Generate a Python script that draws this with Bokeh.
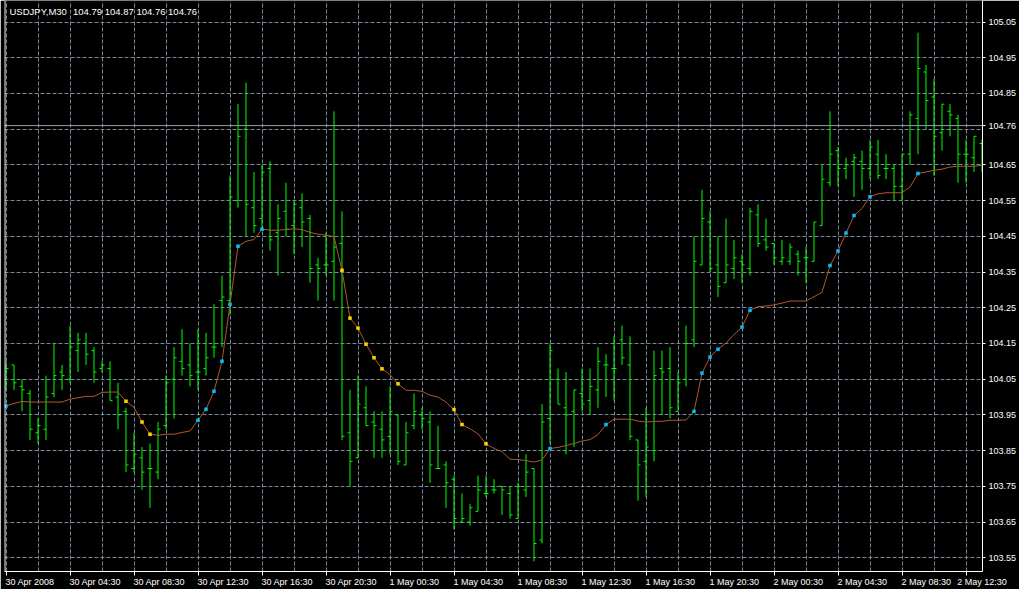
from bokeh.plotting import figure
from bokeh.models import Range1d, FixedTicker, Span, Label, PrintfTickFormatter
from bokeh.embed import file_html
from bokeh.resources import INLINE

# ---------------- data ----------------
symbol = "USDJPY,M30"
header_ohlc = "104.79 104.87 104.76 104.76"
bid_price = 104.76

opens = [104.05, 104.09, 104.03, 104.01, 103.90, 103.91, 104.01, 104.07, 104.05, 104.13,
         104.15, 104.13, 104.08, 104.08, 104.00, 103.96, 103.80, 103.83, 103.80, 103.79,
         103.92, 104.05, 104.10, 104.09, 104.07, 104.08, 104.14, 104.27, 104.27, 104.55,
         104.75, 104.53, 104.50, 104.64, 104.46, 104.52, 104.48, 104.53, 104.50, 104.37,
         104.37, 104.38, 104.43, 103.90, 103.83, 103.97, 103.93, 103.91, 103.89, 103.95,
         103.81, 103.92, 103.95, 103.93, 103.80, 103.81, 103.77, 103.65, 103.65, 103.68,
         103.73, 103.74, 103.75, 103.73, 103.66, 103.74, 103.80, 103.60, 103.94, 104.05,
         103.97, 103.96, 104.01, 103.99, 104.02, 104.09, 104.08, 104.16, 104.09, 103.88,
         103.82, 103.85, 104.08, 104.08, 103.96, 104.05, 104.16, 104.37, 104.49, 104.37,
         104.32, 104.36, 104.38, 104.36, 104.51, 104.44, 104.43, 104.38, 104.38, 104.40,
         104.39, 104.38, 104.48, 104.60, 104.69, 104.64, 104.66, 104.66, 104.64, 104.68,
         104.64, 104.64, 104.59, 104.68, 104.78, 104.91, 104.84, 104.74, 104.80, 104.78,
         104.68, 104.67, 104.71]
highs = [104.10, 104.09, 104.05, 104.02, 103.94, 104.06, 104.15, 104.09, 104.20, 104.18,
         104.18, 104.14, 104.10, 104.10, 104.04, 103.97, 103.90, 103.86, 103.87, 103.93,
         104.06, 104.14, 104.19, 104.15, 104.19, 104.18, 104.26, 104.34, 104.62, 104.82,
         104.88, 104.63, 104.65, 104.66, 104.54, 104.60, 104.55, 104.57, 104.51, 104.39,
         104.46, 104.80, 104.52, 104.02, 104.06, 104.03, 103.96, 103.96, 104.03, 103.95,
         103.93, 104.01, 103.97, 103.96, 103.92, 103.82, 103.78, 103.73, 103.70, 103.78,
         103.78, 103.77, 103.75, 103.75, 103.76, 103.84, 103.80, 103.98, 104.15, 104.08,
         104.07, 104.02, 104.08, 104.08, 104.14, 104.12, 104.17, 104.20, 104.17, 103.88,
         103.97, 104.13, 104.13, 104.14, 104.07, 104.20, 104.45, 104.58, 104.52, 104.45,
         104.50, 104.44, 104.40, 104.53, 104.54, 104.50, 104.43, 104.44, 104.43, 104.41,
         104.42, 104.49, 104.65, 104.80, 104.70, 104.67, 104.68, 104.69, 104.72, 104.72,
         104.68, 104.65, 104.68, 104.80, 105.02, 104.93, 104.89, 104.82, 104.82, 104.79,
         104.72, 104.73, 104.72]
lows = [104.02, 104.02, 103.96, 103.88, 103.87, 103.88, 104.00, 104.02, 104.04, 104.07,
        104.09, 104.04, 104.07, 103.99, 103.91, 103.79, 103.79, 103.74, 103.69, 103.77,
        103.91, 103.94, 104.06, 104.03, 104.02, 104.06, 104.11, 104.14, 104.23, 104.53,
        104.45, 104.46, 104.47, 104.41, 104.34, 104.45, 104.40, 104.42, 104.32, 104.27,
        104.34, 104.27, 103.88, 103.75, 103.83, 103.92, 103.83, 103.83, 103.84, 103.81,
        103.81, 103.91, 103.91, 103.76, 103.80, 103.69, 103.63, 103.65, 103.64, 103.68,
        103.72, 103.73, 103.67, 103.66, 103.66, 103.72, 103.54, 103.59, 103.87, 103.98,
        103.84, 103.86, 103.96, 103.95, 103.97, 104.00, 103.99, 104.09, 103.88, 103.71,
        103.72, 103.82, 103.95, 103.94, 103.96, 104.03, 104.14, 104.37, 104.35, 104.28,
        104.32, 104.33, 104.32, 104.34, 104.42, 104.41, 104.37, 104.37, 104.37, 104.34,
        104.32, 104.38, 104.48, 104.59, 104.59, 104.61, 104.56, 104.58, 104.61, 104.61,
        104.61, 104.55, 104.55, 104.65, 104.68, 104.75, 104.62, 104.69, 104.73, 104.60,
        104.60, 104.63, 104.63]
closes = [104.08, 104.04, 104.02, 103.91, 103.92, 104.00, 104.06, 104.06, 104.14, 104.16,
          104.12, 104.07, 104.09, 103.99, 103.95, 103.81, 103.84, 103.79, 103.80, 103.91,
          104.04, 104.11, 104.08, 104.06, 104.07, 104.11, 104.14, 104.28, 104.56, 104.73,
          104.54, 104.48, 104.63, 104.44, 104.50, 104.47, 104.54, 104.49, 104.36, 104.36,
          104.37, 104.42, 103.89, 103.82, 103.98, 103.92, 103.92, 103.88, 103.96, 103.82,
          103.90, 103.96, 103.94, 103.81, 103.80, 103.76, 103.66, 103.66, 103.69, 103.74,
          103.73, 103.74, 103.74, 103.67, 103.75, 103.79, 103.59, 103.93, 104.13, 103.98,
          103.95, 104.02, 103.98, 104.03, 104.10, 104.09, 104.08, 104.11, 103.89, 103.81,
          103.86, 104.06, 104.07, 103.97, 104.04, 104.15, 104.38, 104.50, 104.36, 104.31,
          104.37, 104.39, 104.37, 104.52, 104.43, 104.42, 104.39, 104.39, 104.42, 104.38,
          104.39, 104.49, 104.61, 104.68, 104.64, 104.65, 104.67, 104.64, 104.70, 104.62,
          104.64, 104.59, 104.68, 104.79, 104.92, 104.83, 104.73, 104.82, 104.79, 104.68,
          104.68, 104.73, 104.70]
ma_values = [103.975, 103.982, 103.988, 103.986, 103.986, 103.986, 103.986, 103.986, 103.994, 103.998,
             104.002, 104.002, 104.013, 104.014, 104.014, 103.988, 103.971, 103.930, 103.896, 103.893,
             103.896, 103.896, 103.901, 103.905, 103.935, 103.966, 104.016, 104.100, 104.260, 104.422,
             104.436, 104.441, 104.470, 104.467, 104.467, 104.469, 104.471, 104.469, 104.461, 104.456,
             104.453, 104.449, 104.355, 104.221, 104.193, 104.148, 104.110, 104.079, 104.063, 104.037,
             104.019, 104.019, 104.016, 104.005, 104.000, 103.986, 103.965, 103.923, 103.911, 103.897,
             103.869, 103.856, 103.847, 103.826, 103.825, 103.822, 103.818, 103.824, 103.856, 103.859,
             103.864, 103.870, 103.877, 103.881, 103.895, 103.923, 103.938, 103.938, 103.938, 103.933,
             103.930, 103.932, 103.932, 103.935, 103.935, 103.936, 103.960, 104.067, 104.112, 104.134,
             104.151, 104.175, 104.196, 104.243, 104.253, 104.255, 104.258, 104.263, 104.269, 104.269,
             104.269, 104.281, 104.293, 104.368, 104.409, 104.459, 104.508, 104.528, 104.561, 104.569,
             104.572, 104.572, 104.572, 104.588, 104.626, 104.630, 104.635, 104.638, 104.644, 104.646,
             104.646, 104.646, 104.649]
dots_up = [0, 24, 25, 26, 27, 28, 29, 32, 68, 75, 86, 87, 88, 89, 92, 93, 103, 104, 105, 106, 108, 114]
dots_down = [15, 17, 18, 42, 43, 44, 45, 46, 47, 49, 56, 57, 60]

time_labels = ["30 Apr 2008", "30 Apr 04:30", "30 Apr 08:30", "30 Apr 12:30", "30 Apr 16:30",
               "30 Apr 20:30", "1 May 00:30", "1 May 04:30", "1 May 08:30", "1 May 12:30",
               "1 May 16:30", "1 May 20:30", "2 May 00:30", "2 May 04:30", "2 May 08:30",
               "2 May 12:30"]
bars_per_label = 8
bars_per_vgrid = 4
price_levels = [103.55, 103.65, 103.75, 103.85, 103.95, 104.05, 104.15, 104.25,
                104.35, 104.45, 104.55, 104.65, 104.75, 104.85, 104.95, 105.05]

# ---------------- styling / layout ----------------
FONT = "Liberation Sans"
FS_PX = 9
FS = f"{FS_PX}px"
BAR_C = "#00ff00"
GRID_C = "#778899"
MA_C = "#b0582c"
UP_C = "#00bfff"
DN_C = "#ffd700"

n = len(opens)
xs = list(range(n))

PX_PER_BAR = 8.0
FIRST_BAR_PX = 5.5          # canvas x of the centre of bar 0
LEFT_BORDER = 4
FRAME_W, FRAME_H = 978, 571
x0 = (LEFT_BORDER - FIRST_BAR_PX) / PX_PER_BAR
x1 = x0 + FRAME_W / PX_PER_BAR
PX_PER_UNIT = 357.2
y_top = 105.05 + 21.5 / PX_PER_UNIT
y_bot = y_top - FRAME_H / PX_PER_UNIT

p = figure(frame_width=FRAME_W, frame_height=FRAME_H,
           x_range=Range1d(x0, x1), y_range=Range1d(y_bot, y_top),
           y_axis_location="right", output_backend="svg", toolbar_location=None,
           min_border=0, min_border_left=LEFT_BORDER, title=None)
p.background_fill_color = "black"
p.border_fill_color = "black"
p.outline_line_color = None

# grid
p.xgrid.ticker = FixedTicker(ticks=[i for i in xs if i % bars_per_vgrid == 0])
p.ygrid.ticker = FixedTicker(ticks=price_levels)
p.grid.grid_line_color = GRID_C
p.grid.grid_line_dash = "4 2"
p.grid.grid_line_width = 1


def style_axis(ax):
    ax.axis_line_color = "white"
    ax.major_tick_line_color = "white"
    ax.minor_tick_line_color = None
    ax.major_tick_in = 0
    ax.minor_tick_in = 0
    ax.major_label_text_color = "white"
    ax.major_label_text_font = FONT
    ax.major_label_text_font_size = FS


# price scale (right): the bid price takes the place of the level it covers
style_axis(p.yaxis[0])
p.yaxis.ticker = FixedTicker(ticks=sorted([v for v in price_levels if abs(v - bid_price) > 0.03] + [bid_price]))
p.yaxis.formatter = PrintfTickFormatter(format="%.2f")
p.yaxis.major_tick_out = 3
p.yaxis.major_label_standoff = 3

# time scale: minor ticks mark the bars, left-aligned texts sit on major ticks
CHAR_W = {" ": 0.278, ":": 0.278, "A": 0.667, "p": 0.556, "r": 0.333,
          "M": 0.833, "a": 0.556, "y": 0.5}


def text_width_px(s):
    return sum(CHAR_W.get(c, 0.556) for c in s) * FS_PX


label_pos = [k * bars_per_label for k in range(len(time_labels))]
label_centers = []
for pos, txt in zip(label_pos, time_labels):
    c = pos + (text_width_px(txt) / 2 - 0.5) / PX_PER_BAR
    label_centers.append(round(min(c, x1 - 0.05), 4))

xa = p.xaxis[0]
style_axis(xa)
xa.ticker = FixedTicker(ticks=label_centers, minor_ticks=label_pos)
xa.major_label_overrides = {c: t for c, t in zip(label_centers, time_labels)}
xa.major_tick_line_color = None
xa.major_tick_out = 2
xa.major_label_standoff = 1
xa.minor_tick_line_color = "white"
xa.minor_tick_out = 4

# bid line
p.add_layout(Span(location=bid_price, dimension="width", line_color="#939fab", line_width=1))
# left frame edge
p.add_layout(Span(location=x0 + 0.5 / PX_PER_BAR, dimension="height", line_color="white", line_width=1))

# OHLC bars
tick = 2.5 / PX_PER_BAR
p.segment(x0=xs, y0=lows, x1=xs, y1=highs, line_color=BAR_C, line_width=1)
p.segment(x0=[i - tick for i in xs], y0=opens, x1=xs, y1=opens, line_color=BAR_C, line_width=1)
p.segment(x0=xs, y0=closes, x1=[i + tick for i in xs], y1=closes, line_color=BAR_C, line_width=1)

# moving average + signal dots
p.line(xs, ma_values, line_color=MA_C, line_width=1)
p.scatter(x=dots_up, y=[ma_values[i] for i in dots_up], marker="square", size=3.5,
          fill_color=UP_C, line_color=None)
p.scatter(x=dots_down, y=[ma_values[i] for i in dots_down], marker="square", size=3.5,
          fill_color=DN_C, line_color=None)

# header
hy = y_top - 5 / PX_PER_UNIT
p.add_layout(Label(x=(9 - FIRST_BAR_PX) / PX_PER_BAR, y=hy, text=symbol,
                   text_color="white", text_font=FONT, text_font_size="9.5px",
                   text_baseline="top"))
p.add_layout(Label(x=(72.5 - FIRST_BAR_PX) / PX_PER_BAR, y=hy, text=header_ohlc,
                   text_color="white", text_font=FONT, text_font_size="9.5px",
                   text_baseline="top"))

open("out.html", "w").write(file_html(p, INLINE))
